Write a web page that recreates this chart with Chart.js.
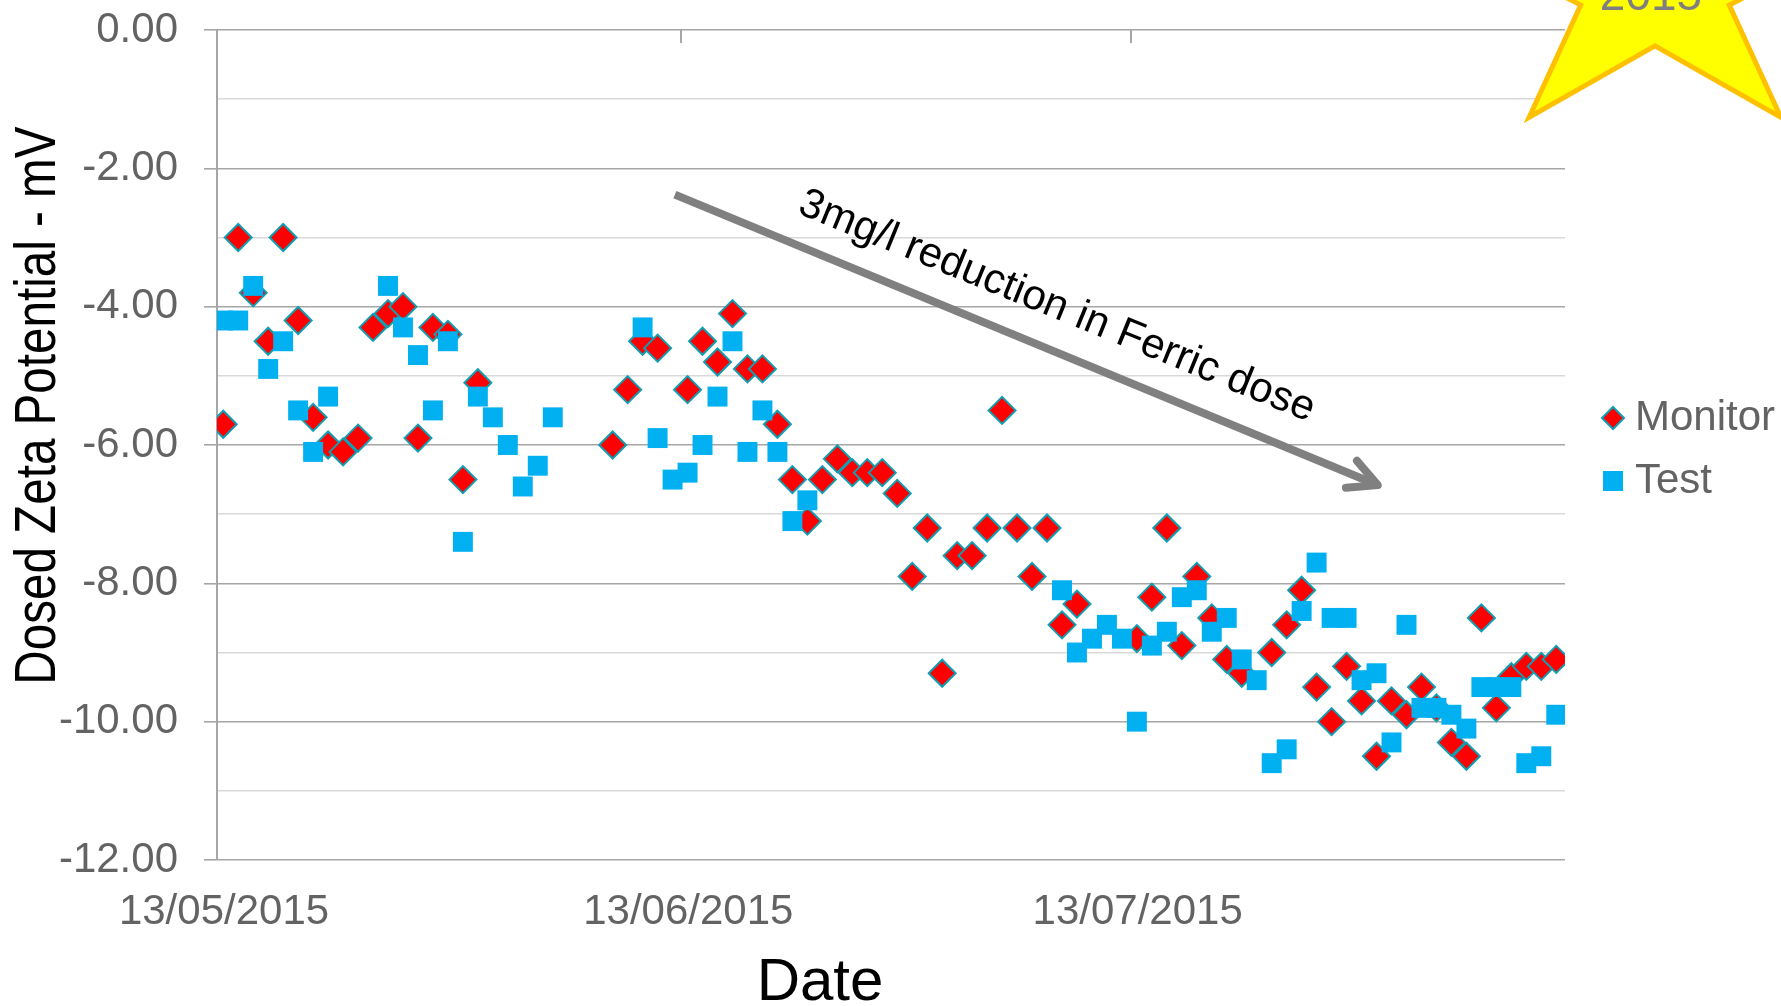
<!DOCTYPE html>
<html>
<head>
<meta charset="utf-8">
<script src="https://cdn.jsdelivr.net/npm/chart.js@4.4.1/dist/chart.umd.min.js"></script>
<style>
html,body{margin:0;padding:0;background:#ffffff;}
#wrap{width:1781px;height:1006px;position:relative;}
</style>
</head>
<body>
<div id="wrap"><canvas id="c" width="1781" height="1006"></canvas></div>
<script>
// ---------------- DATA ----------------
const xTickLabels = ['13/05/2015', '13/06/2015', '13/07/2015'];
const xAxisEnd = '11/08/2015';
const readingHour = 10; // readings taken mid-morning

const monitorDates = [
  '13/05/2015','14/05/2015','15/05/2015','16/05/2015','17/05/2015','18/05/2015','19/05/2015','20/05/2015','21/05/2015',
  '22/05/2015','23/05/2015','24/05/2015','25/05/2015','26/05/2015','27/05/2015','28/05/2015','29/05/2015','30/05/2015',
  '08/06/2015','09/06/2015','10/06/2015','11/06/2015',
  '13/06/2015','14/06/2015','15/06/2015','16/06/2015','17/06/2015','18/06/2015','19/06/2015','20/06/2015','21/06/2015',
  '22/06/2015','23/06/2015','24/06/2015','25/06/2015','26/06/2015','27/06/2015','28/06/2015','29/06/2015','30/06/2015',
  '01/07/2015','02/07/2015','03/07/2015','04/07/2015','05/07/2015','06/07/2015','07/07/2015','08/07/2015','09/07/2015',
  '13/07/2015','14/07/2015','15/07/2015','16/07/2015','17/07/2015','18/07/2015','19/07/2015','20/07/2015',
  '22/07/2015','23/07/2015','24/07/2015','25/07/2015','26/07/2015','27/07/2015','28/07/2015','29/07/2015','30/07/2015','31/07/2015',
  '01/08/2015','02/08/2015','03/08/2015','04/08/2015','05/08/2015','06/08/2015','07/08/2015','08/08/2015','09/08/2015','10/08/2015'
];
const monitorValues = [
  -5.7,-3.0,-3.8,-4.5,-3.0,-4.2,-5.6,-6.0,-6.1,
  -5.9,-4.3,-4.1,-4.0,-5.9,-4.3,-4.4,-6.5,-5.1,
  -6.0,-5.2,-4.5,-4.6,
  -5.2,-4.5,-4.8,-4.1,-4.9,-4.9,-5.7,-6.5,-7.1,
  -6.5,-6.2,-6.4,-6.4,-6.4,-6.7,-7.9,-7.2,-9.3,
  -7.6,-7.6,-7.2,-5.5,-7.2,-7.9,-7.2,-8.6,-8.3,
  -8.8,-8.2,-7.2,-8.9,-7.9,-8.5,-9.1,-9.3,
  -9.0,-8.6,-8.1,-9.5,-10.0,-9.2,-9.7,-10.5,-9.7,-9.9,
  -9.5,-9.8,-10.3,-10.5,-8.5,-9.8,-9.35,-9.2,-9.2,-9.1
];

const testDates = [
  '13/05/2015','14/05/2015','15/05/2015','16/05/2015','17/05/2015','18/05/2015','19/05/2015','20/05/2015',
  '24/05/2015','25/05/2015','26/05/2015','27/05/2015','28/05/2015','29/05/2015','30/05/2015','31/05/2015',
  '01/06/2015','02/06/2015','03/06/2015','04/06/2015',
  '10/06/2015','11/06/2015','12/06/2015','13/06/2015','14/06/2015','15/06/2015','16/06/2015','17/06/2015',
  '18/06/2015','19/06/2015','20/06/2015','21/06/2015',
  '08/07/2015','09/07/2015','10/07/2015','11/07/2015','12/07/2015','13/07/2015','14/07/2015','15/07/2015',
  '16/07/2015','17/07/2015','18/07/2015','19/07/2015','20/07/2015','21/07/2015','22/07/2015','23/07/2015',
  '24/07/2015','25/07/2015','26/07/2015','27/07/2015','28/07/2015','29/07/2015','30/07/2015','31/07/2015',
  '01/08/2015','02/08/2015','03/08/2015','04/08/2015','05/08/2015','06/08/2015','07/08/2015','08/08/2015',
  '09/08/2015','10/08/2015'
];
const testValues = [
  -4.2,-4.2,-3.7,-4.9,-4.5,-5.5,-6.1,-5.3,
  -3.7,-4.3,-4.7,-5.5,-4.5,-7.4,-5.3,-5.6,
  -6.0,-6.6,-6.3,-5.6,
  -4.3,-5.9,-6.5,-6.4,-6.0,-5.3,-4.5,-6.1,
  -5.5,-6.1,-7.1,-6.8,
  -8.1,-9.0,-8.8,-8.6,-8.8,-10.0,-8.9,-8.7,
  -8.2,-8.1,-8.7,-8.5,-9.1,-9.4,-10.6,-10.4,
  -8.4,-7.7,-8.5,-8.5,-9.4,-9.3,-10.3,-8.6,
  -9.8,-9.8,-9.9,-10.1,-9.5,-9.5,-9.5,-10.6,
  -10.5,-9.9
];

const yMin = -12, yMax = 0, yStep = 1, yLabelStep = 2;
const yTitle = 'Dosed Zeta Potential - mV';
const xTitle = 'Date';
const seriesNames = ['Monitor', 'Test'];
const annotationText = '3mg/l reduction in Ferric dose';
const starText = '2015';
// arrow annotation in data space (start and end)
const arrowFrom = {date: '12/06/2015', hour: 13.7, value: -2.38};
const arrowTo = {date: '29/07/2015', hour: 12, value: -6.58};
const labelAt = {date: '08/07/2015', hour: 1.7, value: -4.0};

// ---------------- HELPERS ----------------
const FONT = '"Liberation Sans", Arial, Helvetica, sans-serif';
const GRAY_TEXT = '#636363';
const baseUTC = (() => { const [d, m, y] = xTickLabels[0].split('/').map(Number); return Date.UTC(y, m - 1, d); })();
function dayOffset(s) {
  const [d, m, y] = s.split('/').map(Number);
  return (Date.UTC(y, m - 1, d) - baseUTC) / 86400000;
}
const toPoints = (dates, vals) => dates.map((d, i) => ({x: dayOffset(d) + readingHour / 24, y: vals[i]}));
const isMajor = v => Math.abs(Math.round(v / yLabelStep) * yLabelStep - v) < 1e-6;

// ---------------- PLUGINS ----------------
const decorations = {
  id: 'decorations',
  beforeDatasetsDraw(chart) {
    const ctx = chart.ctx, xs = chart.scales.x, area = chart.chartArea;
    ctx.save();
    ctx.strokeStyle = '#a6a6a6';
    ctx.lineWidth = 2;
    xTickLabels.forEach(l => {
      const px = Math.round(xs.getPixelForValue(dayOffset(l)));
      ctx.beginPath();
      ctx.moveTo(px, area.top);
      ctx.lineTo(px, area.top + 13);
      ctx.stroke();
    });
    ctx.restore();
  },
  afterDraw(chart) {
    const ctx = chart.ctx, xs = chart.scales.x, ys = chart.scales.y;
    ctx.save();
    // arrow
    const x1 = xs.getPixelForValue(dayOffset(arrowFrom.date) + arrowFrom.hour / 24), y1 = ys.getPixelForValue(arrowFrom.value);
    const x2 = xs.getPixelForValue(dayOffset(arrowTo.date) + arrowTo.hour / 24), y2 = ys.getPixelForValue(arrowTo.value);
    const ang = Math.atan2(y2 - y1, x2 - x1);
    ctx.strokeStyle = '#808080';
    ctx.lineWidth = 8;
    ctx.lineCap = 'butt';
    ctx.beginPath();
    ctx.moveTo(x1, y1);
    ctx.lineTo(x2 - 3 * Math.cos(ang), y2 - 3 * Math.sin(ang));
    ctx.stroke();
    ctx.lineCap = 'round';
    ctx.lineJoin = 'round';
    const hl = 32, ha = 27 * Math.PI / 180;
    ctx.beginPath();
    ctx.moveTo(x2 - hl * Math.cos(ang - ha), y2 - hl * Math.sin(ang - ha));
    ctx.lineTo(x2, y2);
    ctx.lineTo(x2 - hl * Math.cos(ang + ha), y2 - hl * Math.sin(ang + ha));
    ctx.stroke();
    // rotated label
    const lx = xs.getPixelForValue(dayOffset(labelAt.date) + labelAt.hour / 24), ly = ys.getPixelForValue(labelAt.value);
    ctx.save();
    ctx.translate(lx, ly);
    ctx.rotate(22.2 * Math.PI / 180);
    ctx.fillStyle = '#000000';
    ctx.font = '42px ' + FONT;
    ctx.textAlign = 'center';
    ctx.textBaseline = 'middle';
    ctx.fillText(annotationText, 0, 0);
    ctx.restore();

    // axis titles
    ctx.fillStyle = '#000000';
    ctx.save();
    ctx.translate(54.5, 405.6);
    ctx.rotate(-Math.PI / 2);
    ctx.scale(0.835, 1);
    ctx.font = '57px ' + FONT;
    ctx.textAlign = 'center';
    ctx.textBaseline = 'alphabetic';
    ctx.fillText(yTitle, 0, 0);
    ctx.restore();
    ctx.font = '60px ' + FONT;
    ctx.textAlign = 'center';
    ctx.textBaseline = 'alphabetic';
    ctx.fillText(xTitle, 820, 1000);

    // legend
    const ds = chart.data.datasets;
    ctx.font = '42px ' + FONT;
    ctx.textAlign = 'left';
    ctx.textBaseline = 'middle';
    const mon = ds.find(d => d.label === seriesNames[0]);
    const tst = ds.find(d => d.label === seriesNames[1]);
    ctx.beginPath();
    ctx.moveTo(1613 - 11, 418); ctx.lineTo(1613, 418 - 11); ctx.lineTo(1613 + 11, 418); ctx.lineTo(1613, 418 + 11); ctx.closePath();
    ctx.fillStyle = mon.backgroundColor; ctx.fill();
    ctx.strokeStyle = mon.borderColor; ctx.lineWidth = 2; ctx.lineJoin = 'miter'; ctx.stroke();
    ctx.fillStyle = GRAY_TEXT;
    ctx.fillText(mon.label, 1635, 418);
    ctx.fillStyle = tst.backgroundColor;
    ctx.fillRect(1603, 471, 20, 20);
    ctx.fillStyle = GRAY_TEXT;
    ctx.fillText(tst.label, 1635, 481);

    // star
    const cx = 1655, cy = -13, Rx = 214, Ry = 161, k = 0.365;
    ctx.beginPath();
    for (let i = 0; i < 10; i++) {
      const a = (-90 + i * 36) * Math.PI / 180;
      const rx = i % 2 ? Rx * k : Rx, ry = i % 2 ? Ry * k : Ry;
      const px = cx + rx * Math.cos(a), py = cy + ry * Math.sin(a);
      if (i) ctx.lineTo(px, py); else ctx.moveTo(px, py);
    }
    ctx.closePath();
    ctx.fillStyle = '#FFFF00';
    ctx.fill();
    ctx.strokeStyle = '#FFC000';
    ctx.lineWidth = 5;
    ctx.lineJoin = 'miter';
    ctx.stroke();
    ctx.fillStyle = '#7f7f7f';
    ctx.font = '46px ' + FONT;
    ctx.textAlign = 'center';
    ctx.textBaseline = 'alphabetic';
    ctx.fillText(starText, 1651, 10);
    ctx.restore();
  }
};

// ---------------- CHART ----------------
new Chart(document.getElementById('c'), {
  type: 'scatter',
  data: {
    datasets: [
      {
        label: seriesNames[0],
        data: toPoints(monitorDates, monitorValues),
        pointStyle: 'rectRot',
        pointRadius: 13.5,
        pointHoverRadius: 13.5,
        backgroundColor: '#FF0000',
        borderColor: '#109FB2',
        borderWidth: 2,
        order: 2
      },
      {
        label: seriesNames[1],
        data: toPoints(testDates, testValues),
        pointStyle: 'rect',
        pointRadius: 14.1,
        pointHoverRadius: 14.1,
        backgroundColor: '#00B0F0',
        borderColor: '#00B0F0',
        borderWidth: 0,
        order: 1
      }
    ]
  },
  options: {
    responsive: false,
    animation: false,
    devicePixelRatio: 1,
    events: [],
    layout: {padding: {top: 30, right: 216, left: 0, bottom: 0}},
    plugins: {legend: {display: false}, tooltip: {enabled: false}, title: {display: false}},
    scales: {
      x: {
        type: 'linear',
        position: 'bottom',
        min: dayOffset(xTickLabels[0]),
        max: dayOffset(xAxisEnd),
        afterBuildTicks: s => { s.ticks = xTickLabels.map(l => ({value: dayOffset(l)})); },
        afterFit: s => { s.height = 146; s.paddingLeft = 0; s.paddingRight = 0; },
        grid: {display: false},
        border: {display: false},
        ticks: {
          autoSkip: false,
          maxRotation: 0,
          minRotation: 0,
          padding: 19,
          labelOffset: 7,
          color: GRAY_TEXT,
          font: {family: FONT, size: 42},
          callback: (v, i) => xTickLabels[i]
        }
      },
      y: {
        type: 'linear',
        min: yMin,
        max: yMax,
        afterFit: s => { s.width = 217; s.paddingTop = 0; s.paddingBottom = 0; },
        ticks: {
          stepSize: yStep,
          autoSkip: false,
          padding: 26,
          color: GRAY_TEXT,
          font: {family: FONT, size: 42},
          callback: v => isMajor(v) ? v.toFixed(2) : ''
        },
        grid: {
          color: c => isMajor(c.tick.value) ? '#a6a6a6' : '#d9d9d9',
          tickColor: c => isMajor(c.tick.value) ? '#a6a6a6' : 'rgba(0,0,0,0)',
          lineWidth: 1.6,
          tickLength: 13,
          drawTicks: true
        },
        border: {display: true, color: '#a6a6a6', width: 2}
      }
    }
  },
  plugins: [decorations]
});
</script>
</body>
</html>
